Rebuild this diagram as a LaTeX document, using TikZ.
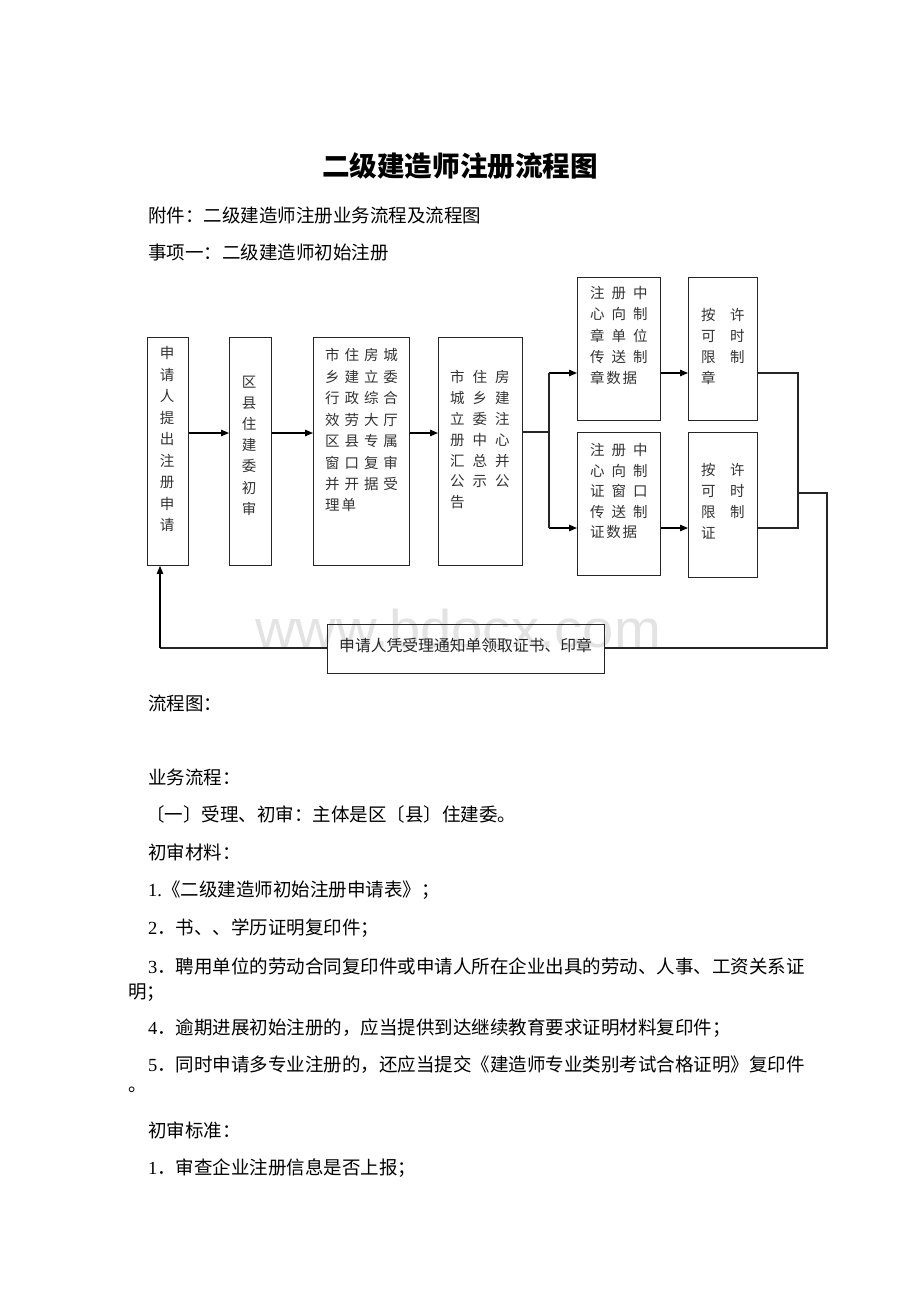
\documentclass[tikz,border=0pt]{standalone}
\usepackage{fontspec}
\setmainfont{Liberation Serif}
\newfontfamily\cjk{Noto Sans CJK SC}
\newfontfamily\wmfont{Liberation Sans}
\usetikzlibrary{arrows.meta}
\newcommand\dg[1]{{\rmfamily #1}}
\begin{document}
\begin{tikzpicture}[x=1pt,y=-1pt,
  box/.style={draw=black!85, line width=0.9pt, anchor=north west, inner sep=0},
  arr/.style={line width=1.2pt, draw=black, -{Triangle[length=8pt,width=6.5pt]}},
  ln/.style={line width=1.1pt, draw=black!85},
  body/.style={anchor=west, inner sep=0, font=\cjk\fontsize{18.5}{22}\selectfont},
  cellc/.style={anchor=center, inner sep=0, text=black!80, font=\cjk\fontsize{14.5}{16}\selectfont},
  cellw/.style={anchor=west, inner sep=0, text=black!80, font=\cjk\fontsize{14.5}{16}\selectfont\addfontfeatures{LetterSpace=#1}},
  cellw/.default=0,
]
\useasboundingbox (0,0) rectangle (920,1302);
\fill[white] (0,0) rectangle (920,1302);

% watermark
\node[anchor=base, inner sep=0, text=black!11, font=\wmfont\fontsize{53}{53}\selectfont] (wm) at (458,647) {\scalebox{1.06}[1]{www.bdocx.com}};

% title and headings
\node[anchor=center, inner sep=0, font=\cjk\bfseries\fontsize{27.6}{30}\selectfont] (title) at (460,166) {二级建造师注册流程图};
\node[body] (h1) at (148,215) {附件：二级建造师注册业务流程及流程图};
\node[body] (h2) at (148,252) {事项一：二级建造师初始注册};

% boxes
\node[box, minimum width=41pt, minimum height=228pt] (b1) at (147,337) {};
\node[box, minimum width=42pt, minimum height=228pt] (b2) at (229,337) {};
\node[box, minimum width=96pt, minimum height=228pt] (b3) at (313,337) {};
\node[box, minimum width=84pt, minimum height=228pt] (b4) at (438,337) {};
\node[box, minimum width=83pt, minimum height=143pt] (b5) at (577,277) {};
\node[box, minimum width=69pt, minimum height=143pt] (b6) at (688,277) {};
\node[box, minimum width=83pt, minimum height=143pt] (b7) at (577,432) {};
\node[box, minimum width=69pt, minimum height=145pt] (b8) at (688,432) {};
\node[box, minimum width=277pt, minimum height=49pt] (b9) at (327,624) {};

% box texts
\foreach \t [count=\i from 0] in {申,请,人,提,出,注,册,申,请}
  \node[cellc] (t1-\i) at (167,353+21.5*\i) {\t};
\foreach \t [count=\i from 0] in {区,县,住,建,委,初,审}
  \node[cellc] (t2-\i) at (249,382+21.1*\i) {\t};
\foreach \t [count=\i from 0] in {市住房城,乡建立委,行政综合,效劳大厅,区县专属,窗口复审,并开据受}
  \node[cellw=34] (t3-\i) at (325,355+21.5*\i) {\t};
\node[cellw=14] (t3-7) at (325,355+21.5*7) {理单};
\foreach \t [count=\i from 0] in {市住房,城乡建,立委注,册中心,汇总并,公示公,告}
  \node[cellw=55] (t4-\i) at (450,377+20.9*\i) {\t};
\foreach \t [count=\i from 0] in {注册中,心向制,章单位,传送制}
  \node[cellw=48] (t5-\i) at (590,293+21.3*\i) {\t};
\node[cellw=12] (t5-4) at (590,293+21.3*4) {章数据};
\foreach \t [count=\i from 0] in {按　许,可　时,限　制,章}
  \node[cellw] (t6-\i) at (701,315+21*\i) {\t};
\foreach \t [count=\i from 0] in {注册中,心向制,证窗口,传送制}
  \node[cellw=48] (t7-\i) at (590,450+20.6*\i) {\t};
\node[cellw=12] (t7-4) at (590,450+20.6*4) {证数据};
\foreach \t [count=\i from 0] in {按　许,可　时,限　制,证}
  \node[cellw] (t8-\i) at (701,470+21*\i) {\t};
\node[anchor=west, inner sep=0, text=black!85, font=\cjk\fontsize{15.8}{18}\selectfont] (t9) at (339,645) {申请人凭受理通知单领取证书、印章};

% connectors
\coordinate (r1) at (0,433);
\coordinate (rt) at (0,373);
\coordinate (rb) at (0,528);
\coordinate (sp) at (549,432);
\coordinate (mg) at (798,0);
\coordinate (mj) at (798,493);
\coordinate (rr) at (827,493);
\coordinate (bot) at (0,648);
\coordinate (up) at (160,0);

\draw[arr] (b1.east |- r1) -- (b2.west |- r1);
\draw[arr] (b2.east |- r1) -- (b3.west |- r1);
\draw[arr] (b3.east |- r1) -- (b4.west |- r1);
\draw[ln] (b4.east |- sp) -- (sp);
\draw[arr] (sp |- rt) -- (b5.west |- rt);
\draw[arr] (sp |- rb) -- (b7.west |- rb);
\draw[ln] (sp |- rt) -- (sp |- rb);
\draw[arr] (b5.east |- rt) -- (b6.west |- rt);
\draw[arr] (b7.east |- rb) -- (b8.west |- rb);
\draw[ln] (b6.east |- rt) -- (mg |- rt) -- (mg |- rb) -- (b8.east |- rb);
\draw[ln] (mj) -- (rr) -- (rr |- bot) -- (b9.east |- bot);
\draw[ln] (b9.west |- bot) -- (up |- bot);
\draw[arr] (up |- bot) -- (up |- b1.south);

% body text
\node[body] (p1) at (148,703) {流程图：};
\node[body] (p2) at (148,777) {业务流程：};
\node[body] (p3) at (146,814) {〔一〕受理、初审：主体是区〔县〕住建委。};
\node[body] (p4) at (148,852) {初审材料：};
\node[body] (p5) at (148,890) {\dg{1.}《二级建造师初始注册申请表》；};
\node[body] (p6) at (148,928) {\dg{2}．书、、学历证明复印件；};
\node[body] (p7) at (148,966) {\dg{3}．聘用单位的劳动合同复印件或申请人所在企业出具的劳动、人事、工资关系证};
\node[body] (p7b) at (128,993) {明；};
\node[body] (p8) at (148,1028) {\dg{4}．逾期进展初始注册的，应当提供到达继续教育要求证明材料复印件；};
\node[body] (p9) at (148,1065) {\dg{5}．同时申请多专业注册的，还应当提交《建造师专业类别考试合格证明》复印件};
\node[body] (p9b) at (128,1090) {。};
\node[body] (p10) at (148,1130) {初审标准：};
\node[body] (p11) at (148,1168) {\dg{1}．审查企业注册信息是否上报；};
\end{tikzpicture}
\end{document}
